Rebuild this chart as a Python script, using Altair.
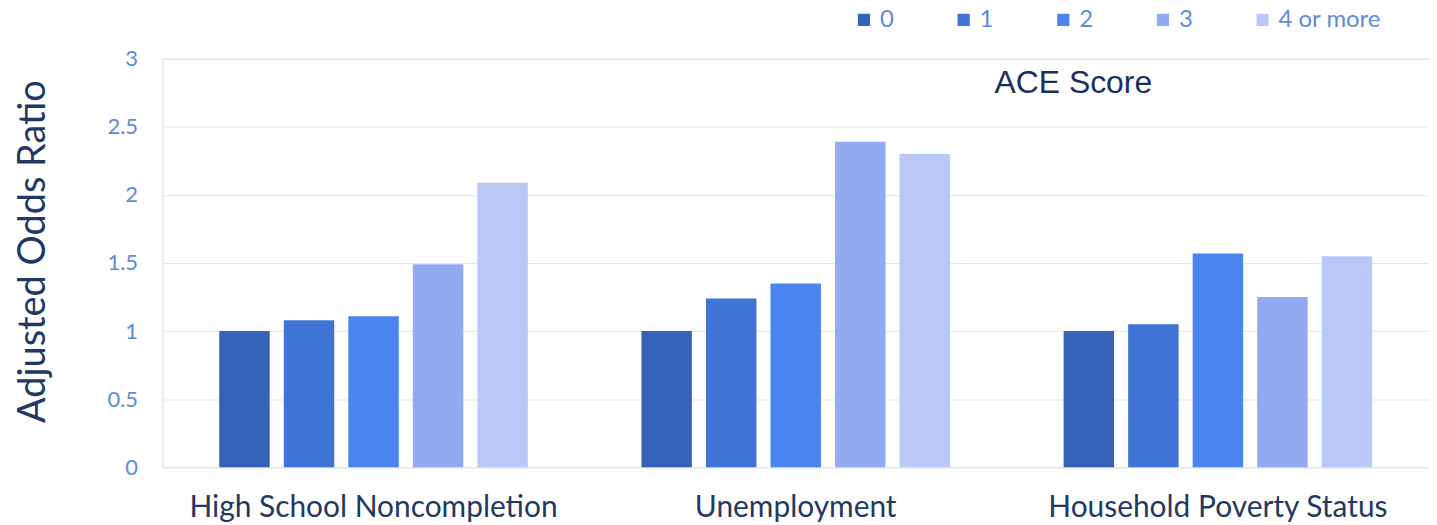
import altair as alt
import pandas as pd

outcomes = ["High School Noncompletion", "Unemployment", "Household Poverty Status"]
ace_scores = ["0", "1", "2", "3", "4 or more"]
hs_values = [1.0, 1.08, 1.11, 1.49, 2.09]
unemp_values = [1.0, 1.24, 1.35, 2.39, 2.30]
poverty_values = [1.0, 1.05, 1.57, 1.25, 1.55]
colors = ["#3662B8", "#3F74D6", "#4A84EF", "#90ABF2", "#B9C8F6"]
y_ticks = [0, 0.5, 1, 1.5, 2, 2.5, 3]
legend_title = "ACE Score"
y_title = "Adjusted Odds Ratio"

rows = []
for outcome, vals in zip(outcomes, [hs_values, unemp_values, poverty_values]):
    for score, v in zip(ace_scores, vals):
        rows.append({"outcome": outcome, "score": score, "value": v})
df = pd.DataFrame(rows)

bars = alt.Chart(df).mark_bar().encode(
    x=alt.X("outcome:N", sort=outcomes,
            scale=alt.Scale(paddingInner=0, paddingOuter=0),
            axis=alt.Axis(title=None, labelAngle=0, ticks=False, domain=False,
                          labelFont="Lato", labelFontSize=30, labelColor="#1F3864",
                          labelPadding=25, labelLimit=1000)),
    xOffset=alt.XOffset("score:N", sort=ace_scores,
                        scale=alt.Scale(paddingInner=0.218, paddingOuter=0.88)),
    y=alt.Y("value:Q", scale=alt.Scale(domain=[0, 3], nice=False),
            axis=alt.Axis(values=y_ticks, title=y_title, ticks=False, domain=False,
                          labelExpr="toString(datum.value)",
                          labelFont="Lato", labelFontSize=22, labelColor="#5B8BD9",
                          labelPadding=25,
                          gridColor="#DFE6EE", gridWidth=1,
                          titleFont="Lato", titleFontSize=38, titleFontWeight="normal",
                          titleColor="#1F3864", titleAngle=270,
                          titleX=-129, titleY=193, titleAlign="center",
                          titleBaseline="middle")),
    color=alt.Color("score:N", sort=ace_scores,
                    scale=alt.Scale(domain=ace_scores, range=colors),
                    legend=alt.Legend(title=None, orient="none", direction="horizontal",
                                      legendX=692, legendY=-51,
                                      symbolType="square", symbolSize=150,
                                      symbolStrokeWidth=0, symbolOpacity=1,
                                      labelFont="Lato", labelFontSize=24,
                                      labelColor="#5B8BD9", labelOffset=4,
                                      labelLimit=300, columnPadding=58)),
)

label_df = pd.DataFrame({"label": [legend_title]})
ace_text = alt.Chart(label_df).mark_text(
    font="Liberation Sans", fontSize=32, color="#1B2F5E", align="left",
    baseline="alphabetic"
).encode(
    text="label:N",
    x=alt.value(835),
    y=alt.value(34),
)

chart = alt.layer(bars, ace_text).properties(
    width=1271, height=410,
    autosize=alt.AutoSizeParams(type="none"),
    padding={"left": 155, "top": 50, "right": 0, "bottom": 57},
).configure_view(
    stroke="#3C4650", strokeWidth=1
).configure(background="white")

chart.save("out.html", embed_options={"renderer": "svg", "actions": False})
